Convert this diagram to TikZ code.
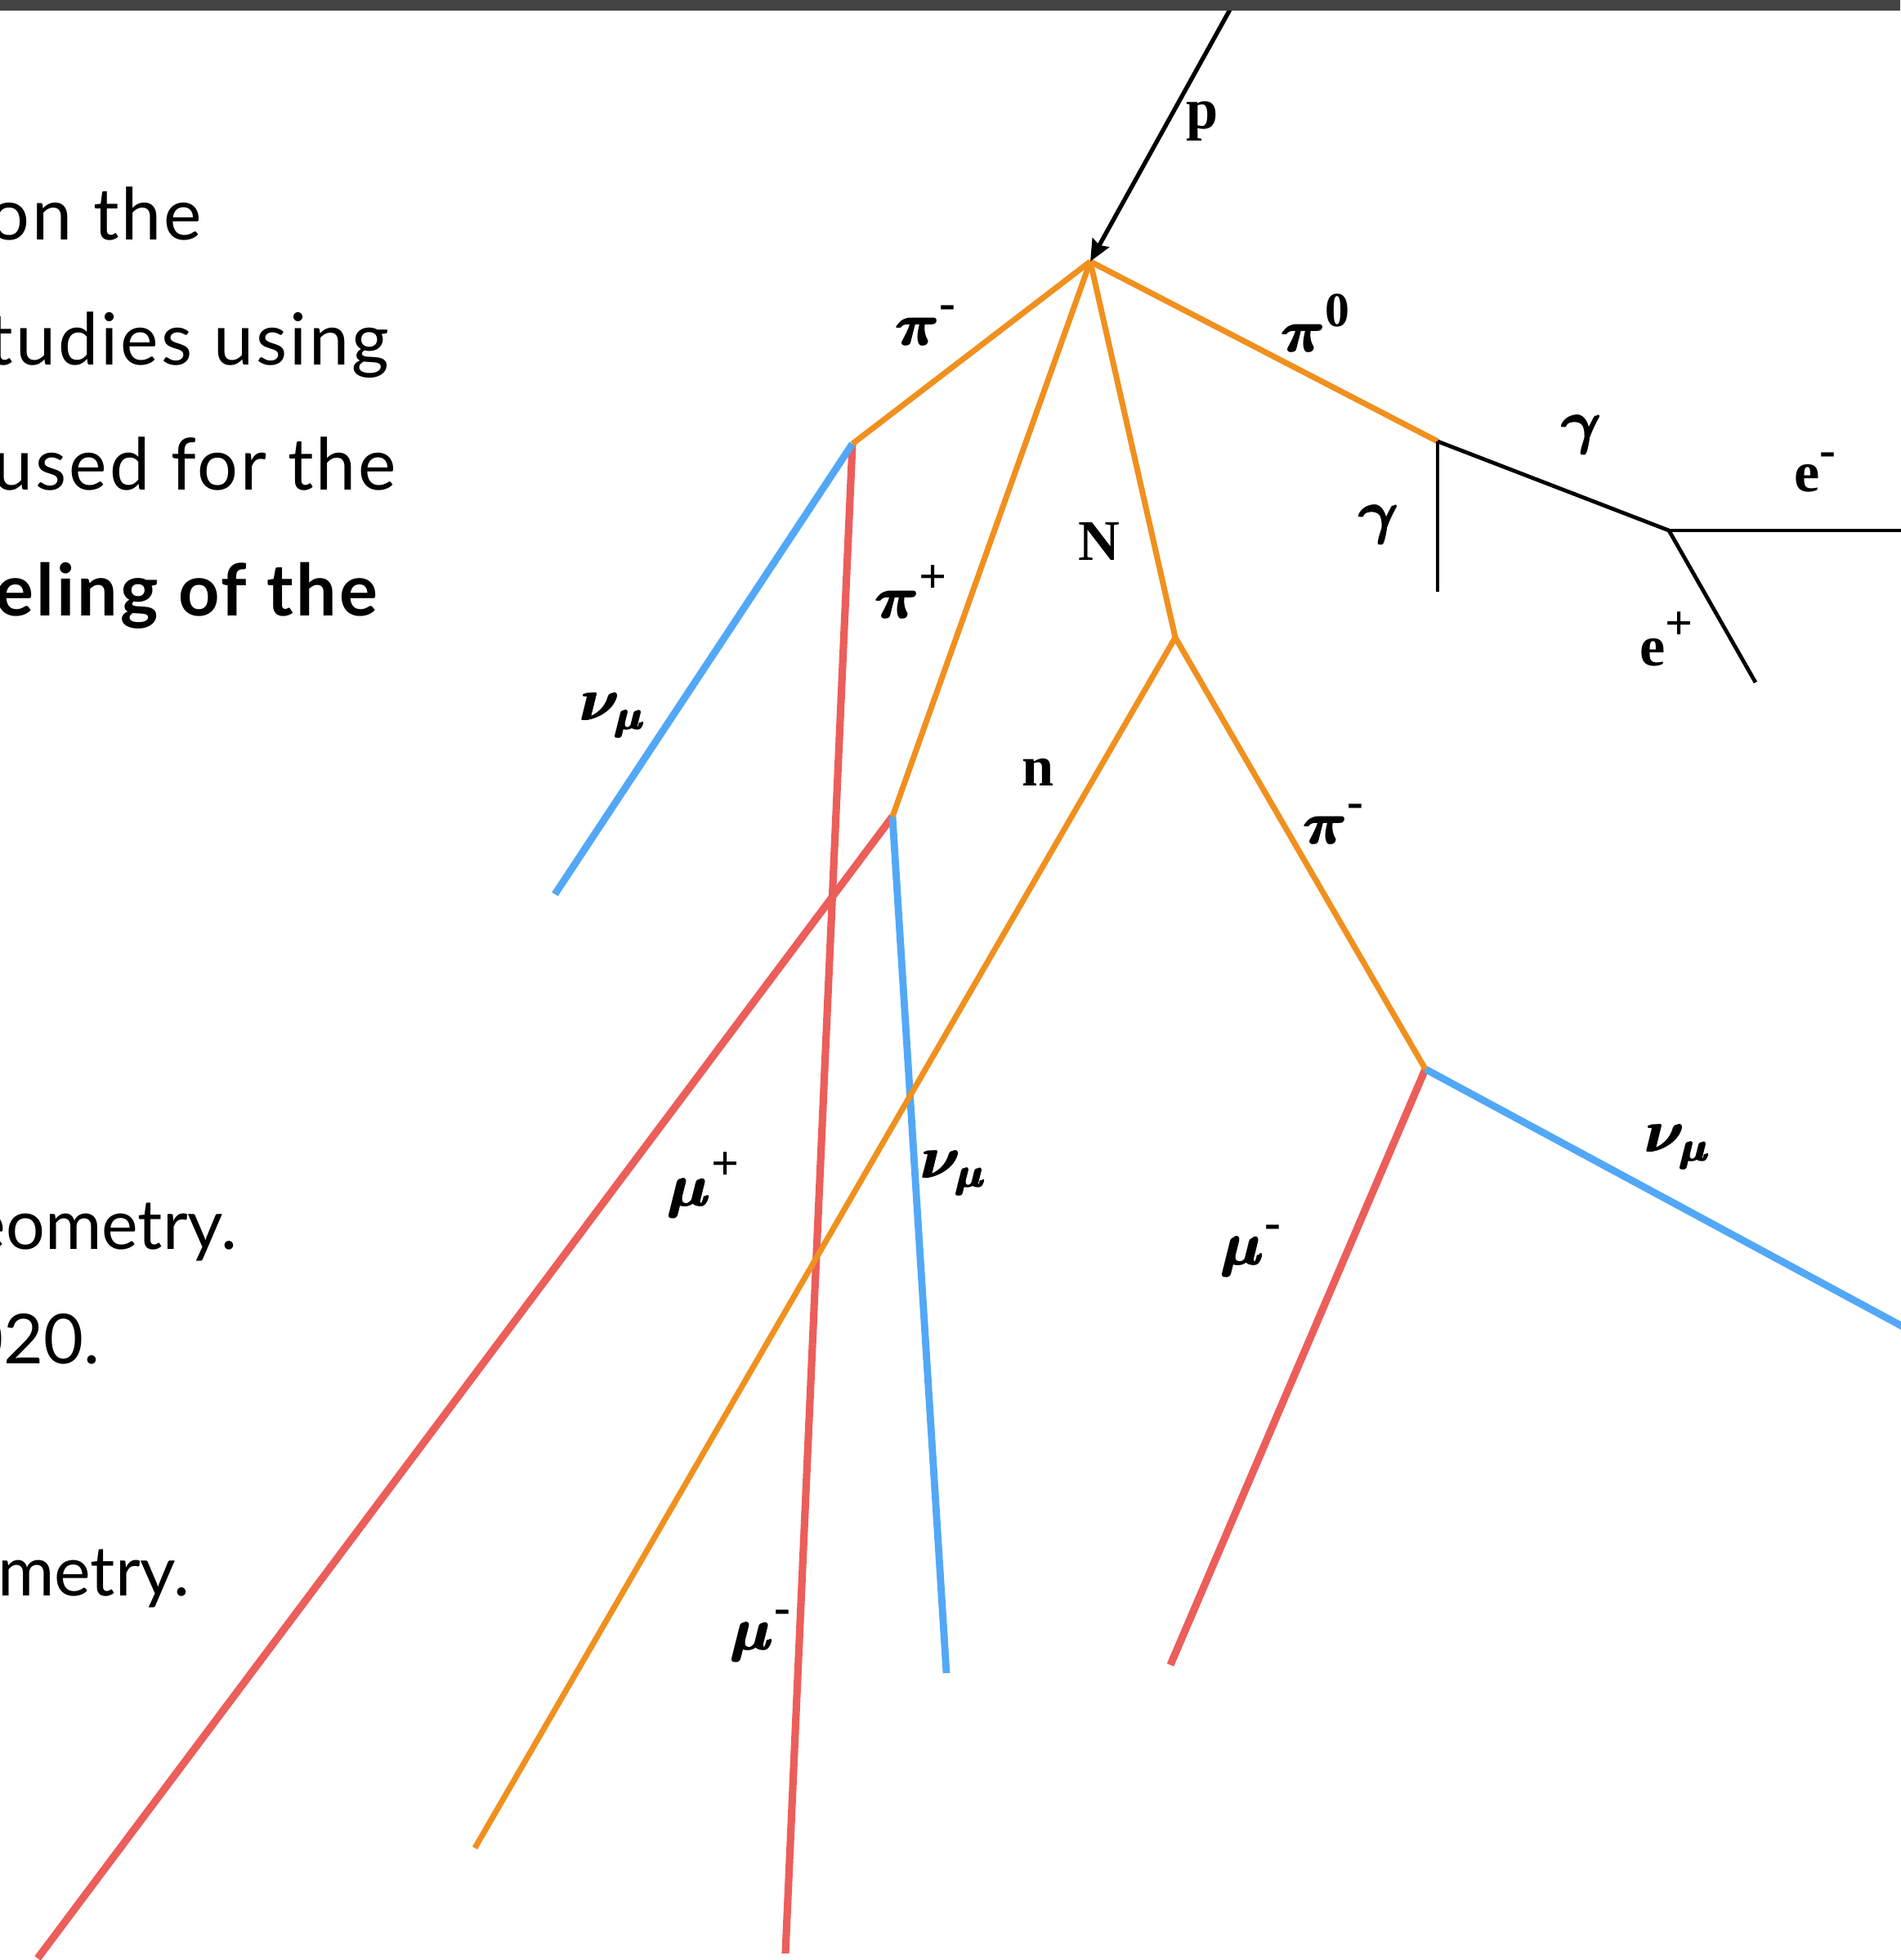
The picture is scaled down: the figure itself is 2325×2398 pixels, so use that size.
\documentclass[tikz,border=0pt]{standalone}
\usepackage{fontspec}
\setmainfont{Lato}[LetterSpace=3.5]
\newfontfamily\plainfont{Lato}
\newfontfamily\lblfont{Liberation Serif}
\usetikzlibrary{arrows.meta}
\definecolor{barGray}{HTML}{434343}
\definecolor{hadron}{HTML}{F0901E}
\definecolor{muon}{HTML}{EC5E5A}
\definecolor{neutrino}{HTML}{52A8F7}
% heavy greek letter and raised marks
\newcommand{\gkone}[1]{{\mathversion{bold}$#1$}}
\newcommand{\gk}[1]{\rlap{\gkone{#1}}\kern0.45pt\rlap{\gkone{#1}}\kern0.45pt\rlap{\raisebox{0.3pt}{\gkone{#1}}}\gkone{#1}}
\newcommand{\supr}[1]{\raisebox{0.45em}{\fontsize{17}{17}\selectfont #1}}
\tikzset{
  hadronline/.style={hadron,line width=2pt},
  muonline/.style={muon,line width=2.6pt},
  nuline/.style={neutrino,line width=2.5pt},
  emline/.style={black,line width=1.35pt},
  lbl/.style={font=\lblfont\bfseries\fontsize{20}{24}\selectfont,inner sep=0pt},
  bodytext/.style={font=\fontsize{25}{30}\selectfont,anchor=base east,inner sep=0pt},
  lowtext/.style={bodytext,font=\plainfont\fontsize{24}{29}\selectfont},
}
\begin{document}
\begin{tikzpicture}[x=0.01cm,y=-0.01cm]
  \useasboundingbox (0,0) rectangle (2325,2398);
  % slide text, cut at the left
  \node[bodytext] (t1) at (248,294) {on the};
  \node[bodytext] (t2) at (477,447) {tudies using};
  \node[bodytext] (t3) at (486,600) {used for the};
  \node[bodytext,font=\bfseries\fontsize{25}{30}\selectfont] (t4) at (463,753) {eling of the};
  \node[lowtext] (t5) at (291,1528) {eometry.};
  \node[lowtext] (t6) at (123,1668) {020.};
  \node[lowtext] (t7) at (233,1952) {ometry.};
  % vertices
  \coordinate (pin) at (1507,8);
  \coordinate (V) at (1334,320);
  \coordinate (A) at (1043,543);
  \coordinate (B) at (1092,999);
  \coordinate (C) at (1438,780);
  \coordinate (D) at (1744,1308);
  \coordinate (E) at (1759,540);
  \coordinate (F) at (2042,649);
  % track ends
  \coordinate (nuA) at (679,1094);
  \coordinate (muA) at (961,2390);
  \coordinate (muB) at (46,2396);
  \coordinate (nuB) at (1158,2047);
  \coordinate (nC) at (581,2261);
  \coordinate (muD) at (1432,2037);
  \coordinate (nuD) at (2330,1624);
  \coordinate (gE) at (1759,724);
  \coordinate (em) at (2330,649);
  \coordinate (ep) at (2148,835);
  % muons
  \draw[muonline] (A) -- (muA);
  \draw[muonline] (B) -- (muB);
  \draw[muonline] (D) -- (muD);
  % neutrinos
  \draw[nuline] (A) -- (nuA);
  \draw[nuline] (B) -- (nuB);
  \draw[nuline] (D) -- (nuD);
  % hadrons
  \draw[hadronline] (V) -- (A);
  \draw[hadronline] (V) -- (B);
  \draw[hadronline] (V) -- (C);
  \draw[hadronline] (V) -- (E);
  \draw[hadronline] (C) -- (nC);
  \draw[hadronline] (C) -- (D);
  % photons and pair
  \draw[emline] (E) -- (gE);
  \draw[emline] (E) -- (F);
  \draw[emline] (F) -- (em);
  \draw[emline] (F) -- (ep);
  % incoming proton
  \draw[line width=1.5pt,-{Stealth[length=7.5pt,width=6.5pt,inset=1pt]}] (pin) -- (V);
  \fill[barGray] (0,0) rectangle (2325,13);
  % labels
  \node[lbl] (lp) at (1471,148) {p};
  \node[lbl] (lpiA) at (1132,398) {\gk{\pi}\supr{-}};
  \node[lbl] (lnuA) at (750,875) {\gk{\nu_{\mu}}};
  \node[lbl] (lpiB) at (1114,724) {\gk{\pi}\supr{+}};
  \node[lbl] (lN) at (1345,662) {N};
  \node[lbl] (ln) at (1270,945) {n};
  \node[lbl] (lpiD) at (1631,1008) {\gk{\pi}\supr{-}};
  \node[lbl] (lpiE) at (1609,395) {\gk{\pi}\supr{0}};
  \node[lbl] (lgE) at (1687,642) {\gk{\gamma}};
  \node[lbl] (lgF) at (1935,532) {\gk{\gamma}};
  \node[lbl] (lem) at (2221,578) {e\supr{-}};
  \node[lbl] (lep) at (2039,782) {e\supr{+}};
  \node[lbl] (lmuB) at (860,1450) {\gk{\mu}\supr{+}};
  \node[lbl] (lnuB) at (1167,1435) {\gk{\nu_{\mu}}};
  \node[lbl] (lmuD) at (1530,1530) {\gk{\mu}\supr{-}};
  \node[lbl] (lnuD) at (2053,1403) {\gk{\nu_{\mu}}};
  \node[lbl] (lmuA) at (930,2001) {\gk{\mu}\supr{-}};
\end{tikzpicture}
\end{document}
